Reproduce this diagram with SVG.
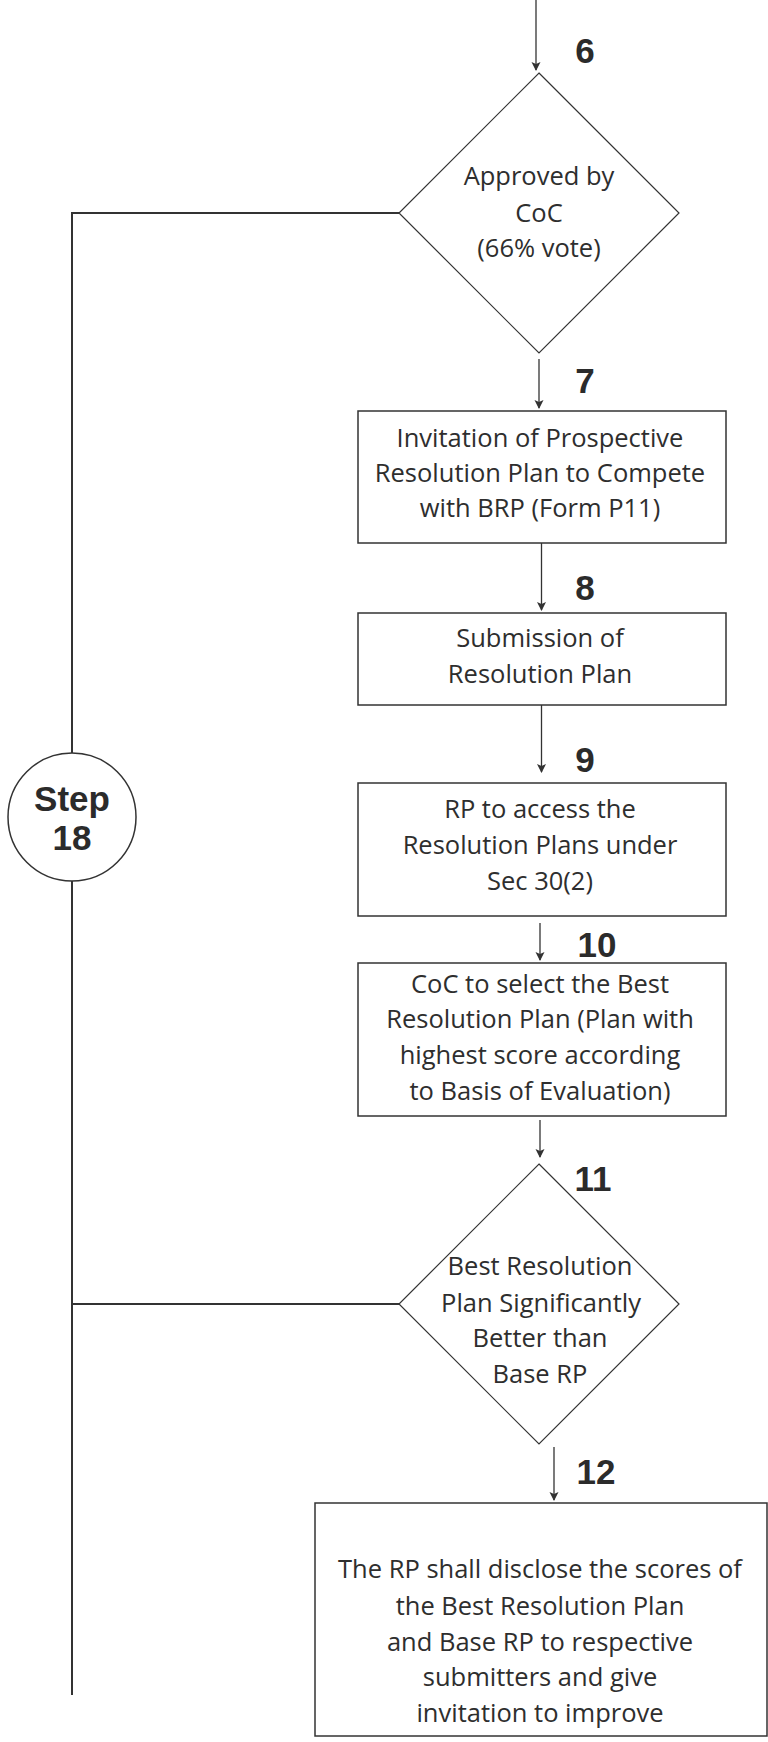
<svg xmlns="http://www.w3.org/2000/svg" width="768" height="1742" viewBox="0 0 768 1742">
<style>
.box{fill:#fff;stroke:#333;stroke-width:1.5}
.dia{fill:#fff;stroke:#333;stroke-width:1.2}
.ln{fill:none;stroke:#333;stroke-width:1.3}
.side{fill:none;stroke:#333;stroke-width:2}
.t{font-family:"Open Sans","Noto Sans",sans-serif;font-size:25.5px;fill:#2e2e2e;text-anchor:middle}
.n{font-family:"Liberation Sans",Arial,sans-serif;font-weight:bold;font-size:35px;fill:#2b2b2b;text-anchor:middle}
</style>
<defs>
<marker id="ah" markerWidth="9" markerHeight="10" refX="8" refY="4.5" orient="auto" markerUnits="userSpaceOnUse">
<path d="M0,0 L9,4.5 L0,9 L2,4.5 Z" fill="#333"/>
</marker>
</defs>
<g id="connectors">
<line class="ln" x1="536" y1="0" x2="536" y2="70" marker-end="url(#ah)"/>
<line class="ln" x1="539" y1="359" x2="539" y2="408" marker-end="url(#ah)"/>
<line class="ln" x1="541.5" y1="543" x2="541.5" y2="610" marker-end="url(#ah)"/>
<line class="ln" x1="541.5" y1="705" x2="541.5" y2="772" marker-end="url(#ah)"/>
<line class="ln" x1="540" y1="923" x2="540" y2="960" marker-end="url(#ah)"/>
<line class="ln" x1="540" y1="1120" x2="540" y2="1157" marker-end="url(#ah)"/>
<line class="ln" x1="554" y1="1447" x2="554" y2="1500" marker-end="url(#ah)"/>
<polyline class="side" points="399,213 72,213 72,753"/>
<line class="side" x1="72" y1="881" x2="72" y2="1695"/>
<line class="side" x1="72" y1="1304" x2="399" y2="1304"/>
</g>
<g id="node6">
<polygon class="dia" points="539,73 679,213 539,353 399,213"/>
<text class="t" x="539" y="185">Approved by</text>
<text class="t" x="539" y="222">CoC</text>
<text class="t" x="539" y="257">(66% vote)</text>
<text class="n" x="585" y="63">6</text>
</g>
<g id="node7">
<rect class="box" x="358" y="411" width="368" height="132"/>
<text class="t" x="540" y="447">Invitation of Prospective</text>
<text class="t" x="540" y="482">Resolution Plan to Compete</text>
<text class="t" x="540" y="517">with BRP (Form P11)</text>
<text class="n" x="585" y="393">7</text>
</g>
<g id="node8">
<rect class="box" x="358" y="613" width="368" height="92"/>
<text class="t" x="540" y="647">Submission of</text>
<text class="t" x="540" y="683">Resolution Plan</text>
<text class="n" x="585" y="600">8</text>
</g>
<g id="node9">
<rect class="box" x="358" y="783" width="368" height="133"/>
<text class="t" x="540" y="818">RP to access the</text>
<text class="t" x="540" y="854">Resolution Plans under</text>
<text class="t" x="540" y="890">Sec 30(2)</text>
<text class="n" x="585" y="772">9</text>
</g>
<g id="node10">
<rect class="box" x="358" y="963" width="368" height="153"/>
<text class="t" x="540" y="993">CoC to select the Best</text>
<text class="t" x="540" y="1028">Resolution Plan (Plan with</text>
<text class="t" x="540" y="1064">highest score according</text>
<text class="t" x="540" y="1100">to Basis of Evaluation)</text>
<text class="n" x="597" y="957">10</text>
</g>
<g id="node11">
<polygon class="dia" points="539,1164 679,1304 539,1444 399,1304"/>
<text class="t" x="540" y="1275">Best Resolution</text>
<text class="t" x="541" y="1312">Plan Significantly</text>
<text class="t" x="540" y="1347">Better than</text>
<text class="t" x="540" y="1383">Base RP</text>
<text class="n" x="593" y="1191">11</text>
</g>
<g id="node12">
<rect class="box" x="315" y="1503" width="452" height="233"/>
<text class="t" x="540" y="1578">The RP shall disclose the scores of</text>
<text class="t" x="540" y="1615">the Best Resolution Plan</text>
<text class="t" x="540" y="1651">and Base RP to respective</text>
<text class="t" x="540" y="1686">submitters and give</text>
<text class="t" x="540" y="1722">invitation to improve</text>
<text class="n" x="596" y="1484">12</text>
</g>
<g id="step18">
<circle cx="72" cy="817" r="64" fill="#fff" stroke="#333" stroke-width="1.5"/>
<text class="n" x="72" y="811">Step</text>
<text class="n" x="72" y="850">18</text>
</g>
</svg>
